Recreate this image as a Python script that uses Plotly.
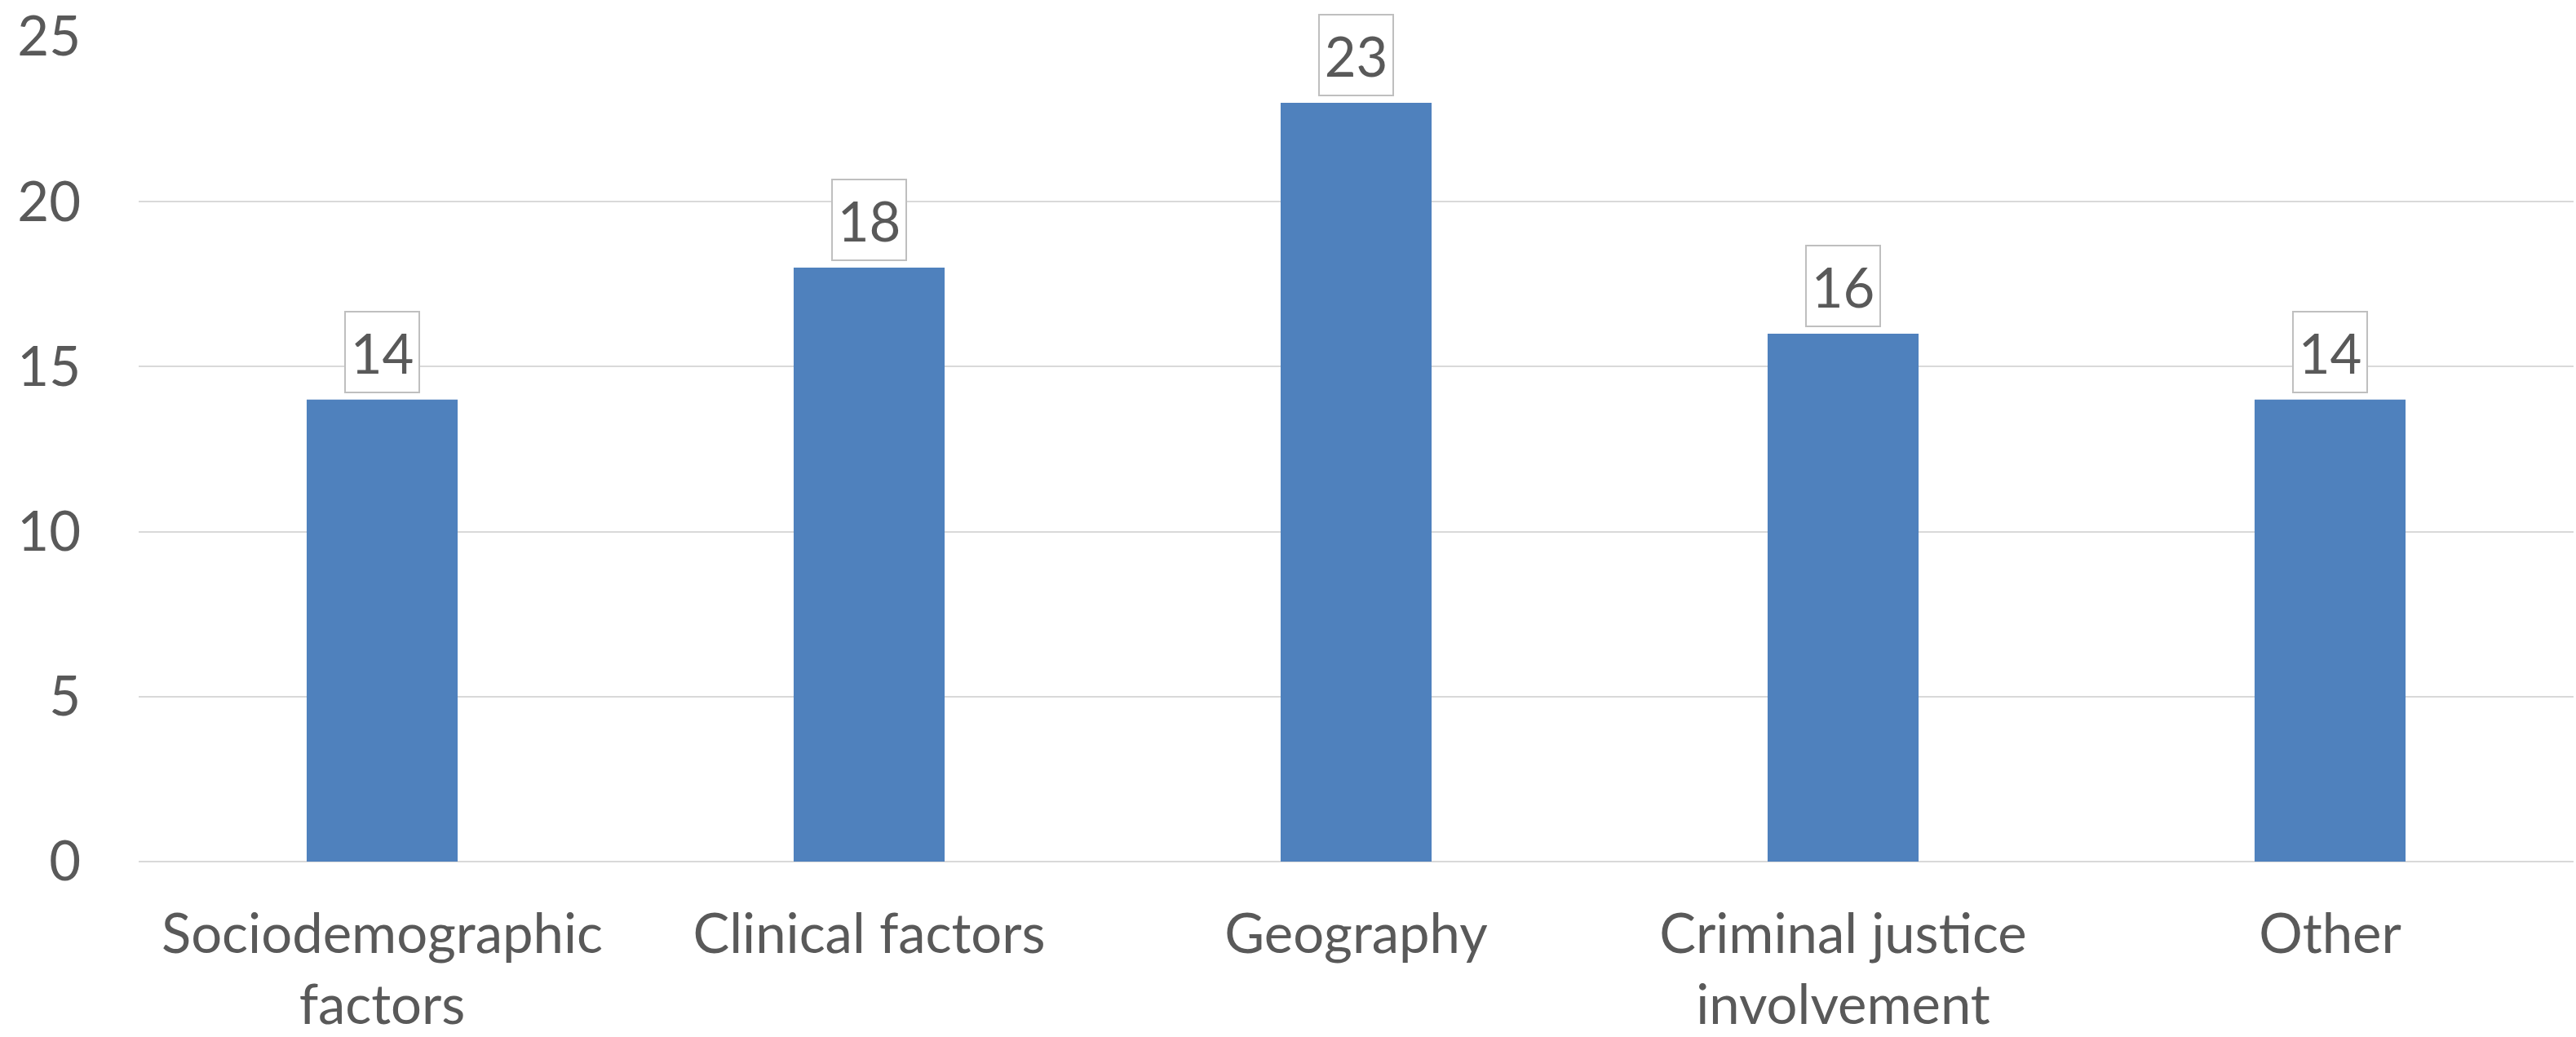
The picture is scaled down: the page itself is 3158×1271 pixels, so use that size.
import plotly.graph_objects as go

categories = ["Sociodemographic<br>factors", "Clinical factors", "Geography",
              "Criminal justice<br>involvement", "Other"]
values = [14, 18, 23, 16, 14]
y_ticks = [0, 5, 10, 15, 20, 25]

FONT = "Lato"
TXT = "#595959"
FS = 67

fig = go.Figure()
fig.add_trace(go.Bar(x=categories, y=values, marker=dict(color="#4F81BD", line=dict(width=0)),
                     width=0.31, hoverinfo="skip"))

for c, v in zip(categories, values):
    fig.add_annotation(x=c, y=v, text=str(v), showarrow=False, yanchor="bottom",
                       yshift=8, font=dict(family=FONT, size=FS, color=TXT),
                       width=83, height=91, align="center", valign="middle",
                       bgcolor="white", bordercolor="#BFBFBF", borderwidth=2, borderpad=3)

fig.update_layout(
    width=3158, height=1271,
    margin=dict(l=170, r=3, t=45, b=215),
    paper_bgcolor="white", plot_bgcolor="white",
    showlegend=False,
    font=dict(family=FONT, size=FS, color=TXT),
)
fig.update_xaxes(showgrid=False, showline=False, ticks="", ticklabelstandoff=44,
                 automargin=False,
                 tickfont=dict(family=FONT, size=FS, color=TXT))
fig.update_yaxes(range=[0, 25], tickvals=y_ticks, showgrid=True, gridcolor="#D9D9D9",
                 gridwidth=2, zeroline=True, zerolinecolor="#D9D9D9", zerolinewidth=2,
                 showline=False, ticks="", ticklabelstandoff=70, automargin=False,
                 tickfont=dict(family=FONT, size=FS, color=TXT))

fig.write_html("out.html")
